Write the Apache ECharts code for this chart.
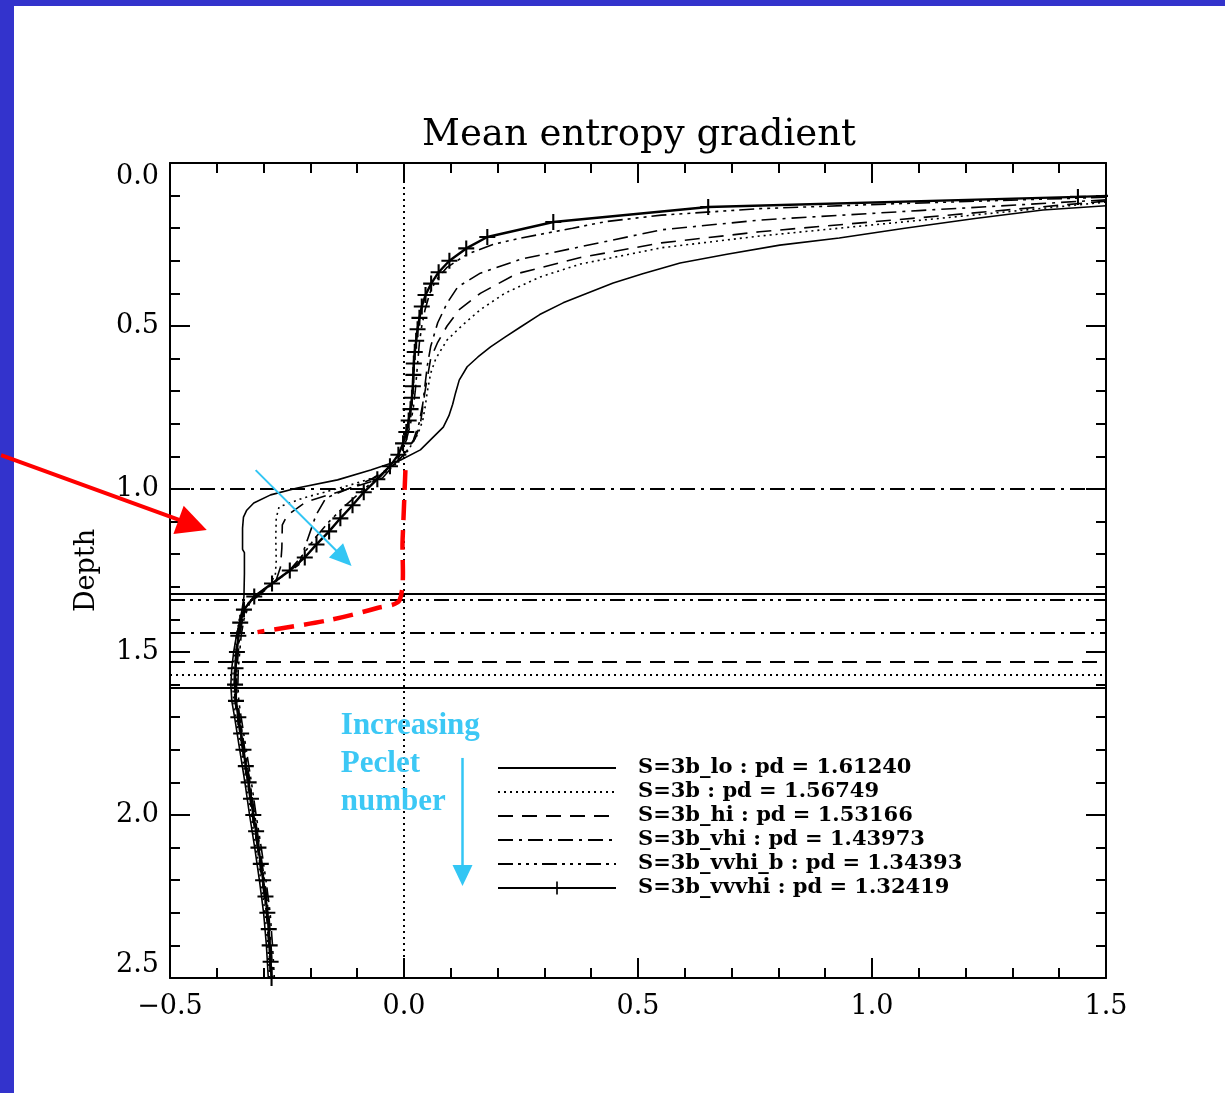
<!DOCTYPE html>
<html>
<head>
<meta charset="utf-8">
<script src="https://cdn.jsdelivr.net/npm/echarts@6/dist/echarts.min.js"></script>
<style>
  html, body { margin: 0; padding: 0; background: #ffffff; }
  #chart { width: 1225px; height: 1093px; }
</style>
</head>
<body>
<div id="chart"></div>
<script>
// Runs and their penetration depths (pd)
const runNames = ['S=3b_lo', 'S=3b', 'S=3b_hi', 'S=3b_vhi', 'S=3b_vvhi_b', 'S=3b_vvvhi'];
const penetrationDepth = [1.61240, 1.56749, 1.53166, 1.43973, 1.34393, 1.32419];

// Mean entropy gradient profiles: depth (y) and gradient (x) per run
const loDepth = [0.131, 0.144, 0.170, 0.200, 0.230, 0.252, 0.280, 0.307, 0.340, 0.368, 0.400, 0.429, 0.465, 0.503, 0.535, 0.564, 0.595, 0.625, 0.666, 0.706, 0.740, 0.775, 0.810, 0.840, 0.880, 0.911, 0.942, 0.972, 0.997, 1.018, 1.043, 1.065, 1.086, 1.120, 1.185, 1.195, 1.260, 1.330, 1.370,
  1.40, 1.45, 1.50, 1.55, 1.60, 1.65, 1.70, 1.80, 1.90, 2.00, 2.10, 2.20, 2.30, 2.40, 2.50];
const loGrad = [1.500, 1.365, 1.220, 1.070, 0.930, 0.803, 0.690, 0.590, 0.510, 0.447, 0.390, 0.340, 0.290, 0.249, 0.215, 0.185, 0.158, 0.135, 0.118, 0.110, 0.104, 0.096, 0.084, 0.063, 0.035, -0.007, -0.071, -0.142, -0.228, -0.285, -0.321, -0.336, -0.343, -0.345, -0.345, -0.341, -0.341, -0.342, -0.346,
  -0.350, -0.358, -0.364, -0.368, -0.370, -0.368, -0.362, -0.351, -0.340, -0.330, -0.319, -0.309, -0.300, -0.294, -0.290];

const s3bDepth = [0.120, 0.176, 0.224, 0.260, 0.310, 0.350, 0.400, 0.450, 0.500, 0.543, 0.600, 0.645, 0.700, 0.750, 0.790, 0.830, 0.860, 0.890, 0.920, 0.957, 0.990, 1.028, 1.055, 1.089, 1.150, 1.220, 1.264, 1.300, 1.340, 1.370,
  1.40, 1.45, 1.50, 1.55, 1.60, 1.65, 1.70, 1.80, 1.90, 2.00, 2.10, 2.20, 2.30, 2.40, 2.50];
const s3bGrad = [1.500, 1.100, 0.760, 0.550, 0.377, 0.290, 0.215, 0.163, 0.123, 0.092, 0.068, 0.057, 0.050, 0.045, 0.040, 0.030, 0.018, 0.005, -0.015, -0.046, -0.120, -0.216, -0.267, -0.273, -0.274, -0.273, -0.275, -0.290, -0.325, -0.343,
  -0.352, -0.358, -0.362, -0.365, -0.366, -0.364, -0.359, -0.348, -0.337, -0.327, -0.316, -0.306, -0.297, -0.291, -0.287];

const hiDepth = [0.117, 0.168, 0.211, 0.245, 0.290, 0.340, 0.400, 0.450, 0.500, 0.550, 0.600, 0.700, 0.800, 0.845, 0.875, 0.910, 0.940, 0.966, 1.000, 1.040, 1.080, 1.110, 1.181, 1.240, 1.283, 1.320, 1.360,
  1.40, 1.45, 1.50, 1.55, 1.60, 1.65, 1.70, 1.80, 1.90, 2.00, 2.10, 2.20, 2.30, 2.40, 2.50];
const hiGrad = [1.500, 1.100, 0.760, 0.550, 0.377, 0.240, 0.163, 0.118, 0.092, 0.072, 0.057, 0.045, 0.035, 0.024, 0.010, -0.010, -0.030, -0.046, -0.120, -0.210, -0.249, -0.260, -0.261, -0.264, -0.274, -0.311, -0.337,
  -0.350, -0.356, -0.359, -0.362, -0.363, -0.361, -0.356, -0.345, -0.334, -0.324, -0.313, -0.303, -0.294, -0.289, -0.285];

const vhiDepth = [0.113, 0.146, 0.175, 0.205, 0.257, 0.295, 0.338, 0.380, 0.430, 0.490, 0.563, 0.620, 0.680, 0.740, 0.800, 0.850, 0.890, 0.930, 0.970, 1.028, 1.080, 1.150, 1.233, 1.270, 1.310, 1.350,
  1.40, 1.45, 1.50, 1.55, 1.60, 1.65, 1.70, 1.80, 1.90, 2.00, 2.10, 2.20, 2.30, 2.40, 2.50];
const vhiGrad = [1.500, 1.100, 0.760, 0.550, 0.377, 0.250, 0.163, 0.115, 0.092, 0.072, 0.057, 0.050, 0.045, 0.040, 0.032, 0.020, 0.003, -0.025, -0.070, -0.167, -0.188, -0.205, -0.225, -0.262, -0.302, -0.333,
  -0.345, -0.351, -0.354, -0.357, -0.358, -0.356, -0.351, -0.340, -0.329, -0.319, -0.308, -0.298, -0.289, -0.284, -0.280];

const vvhiDepth = [0.105, 0.125, 0.140, 0.160, 0.180, 0.200, 0.230, 0.250, 0.280, 0.320, 0.360, 0.400, 0.450, 0.500, 0.550, 0.600, 0.650, 0.700, 0.750, 0.800, 0.850, 0.900, 0.950, 1.000, 1.050, 1.100, 1.150, 1.200, 1.250, 1.300, 1.350,
  1.40, 1.45, 1.50, 1.55, 1.60, 1.65, 1.70, 1.80, 1.90, 2.00, 2.10, 2.20, 2.30, 2.40, 2.50];
const vvhiGrad = [1.500, 1.050, 0.760, 0.550, 0.430, 0.360, 0.250, 0.190, 0.135, 0.092, 0.068, 0.055, 0.045, 0.038, 0.033, 0.030, 0.027, 0.024, 0.020, 0.014, 0.005, -0.010, -0.045, -0.085, -0.125, -0.160, -0.190, -0.215, -0.245, -0.288, -0.330,
  -0.342, -0.348, -0.351, -0.354, -0.355, -0.353, -0.348, -0.337, -0.326, -0.316, -0.305, -0.295, -0.286, -0.281, -0.277];

const vvvhiDepth = [0.100, 0.104, 0.135, 0.181, 0.227, 0.262, 0.300, 0.335, 0.370, 0.405, 0.440, 0.475, 0.510, 0.545, 0.580, 0.615, 0.650, 0.685, 0.720, 0.755, 0.790, 0.825, 0.860, 0.895, 0.930, 0.970, 1.010, 1.050, 1.090, 1.130, 1.170, 1.210, 1.250, 1.290, 1.330, 1.370, 1.410, 1.450,
  1.500, 1.550, 1.600, 1.650, 1.700, 1.750, 1.800, 1.850, 1.900, 1.950, 2.000, 2.050, 2.100, 2.150, 2.200, 2.250, 2.300, 2.350, 2.400, 2.450, 2.500];
const vvvhiGrad = [1.520, 1.440, 0.650, 0.319, 0.178, 0.133, 0.097, 0.074, 0.058, 0.046, 0.038, 0.033, 0.029, 0.026, 0.023, 0.021, 0.020, 0.019, 0.017, 0.014, 0.010, 0.005, -0.002, -0.012, -0.030, -0.057, -0.086, -0.110, -0.136, -0.160, -0.187, -0.212, -0.244, -0.282, -0.320, -0.342, -0.350, -0.354,
  -0.357, -0.360, -0.361, -0.359, -0.354, -0.348, -0.343, -0.338, -0.332, -0.327, -0.322, -0.316, -0.311, -0.306, -0.301, -0.296, -0.292, -0.289, -0.287, -0.285, -0.283];

// Axis ticks
const xTicks = [-0.5, 0.0, 0.5, 1.0, 1.5];
const yTicks = [0.0, 0.5, 1.0, 1.5, 2.0, 2.5];
const baseDepth = 1.0;   // dash-dot reference line

const profiles = [
  [loDepth, loGrad], [s3bDepth, s3bGrad], [hiDepth, hiGrad],
  [vhiDepth, vhiGrad], [vvhiDepth, vvhiGrad], [vvvhiDepth, vvvhiGrad]
];

// Line styles (IDL-like linestyles)
const dashStyles = ['solid', [2, 4], [15, 9], [15, 6, 3, 6], [15, 5, 3, 5, 3, 5, 3, 5], 'solid'];
const curveWidths = [1.6, 1.6, 1.6, 1.6, 1.6, 2.4];
const plusPath = 'path://M-1,-0.13L-0.13,-0.13L-0.13,-1L0.13,-1L0.13,-0.13L1,-0.13L1,0.13L0.13,0.13L0.13,1L-0.13,1L-0.13,0.13L-1,0.13Z';

const serif = '"DejaVu Serif", "Liberation Serif", serif';
const fmt = v => v.toFixed(1).replace('-', '\u2212');

const chart = echarts.init(document.getElementById('chart'), null, { renderer: 'canvas' });

const legendNames = runNames.map((n, i) => n + ' : pd = ' + penetrationDepth[i].toFixed(5));

const series = profiles.map(([dep, grad], i) => {
  const isPlus = i === 5;
  return {
    name: legendNames[i],
    type: 'line',
    xAxisIndex: 0,
    yAxisIndex: 0,
    data: dep.map((d, k) => [grad[k], d]),
    showSymbol: isPlus,
    showAllSymbol: true,
    symbol: isPlus ? plusPath : 'none',
    symbolSize: 16,
    itemStyle: { color: '#000' },
    lineStyle: { color: '#000', width: curveWidths[i], type: dashStyles[i] },
    clip: true,
    z: 3 + i,
    markLine: {
      silent: true,
      symbol: 'none',
      label: { show: false },
      lineStyle: { color: '#000', width: 2, type: dashStyles[i] },
      data: [{ yAxis: penetrationDepth[i] }]
    }
  };
});

// Reference lines: zero gradient (dotted) and depth 1.0 (dash-dot)
series.push({
  type: 'line',
  xAxisIndex: 0,
  yAxisIndex: 0,
  data: [],
  markLine: {
    silent: true,
    symbol: 'none',
    label: { show: false },
    data: [
      { xAxis: 0, lineStyle: { color: '#000', width: 2, type: [2, 4] } },
      { yAxis: baseDepth, lineStyle: { color: '#000', width: 2, type: [15, 6, 3, 6] } }
    ]
  }
});

const tickCommon = {
  axisLine: { show: true, onZero: false, lineStyle: { color: '#000', width: 2 } },
  axisTick: { show: true, inside: true, length: 20, lineStyle: { color: '#000', width: 2 } },
  minorTick: { show: true, splitNumber: 5, length: 10, lineStyle: { color: '#000', width: 2 } },
  splitLine: { show: false }
};

const option = {
  animation: false,
  backgroundColor: '#ffffff',
  title: {
    text: 'Mean entropy gradient',
    left: 634,
    top: 112,
    textAlign: 'center',
    textStyle: { fontFamily: serif, fontSize: 37, fontWeight: 'normal', color: '#000' }
  },
  grid: { left: 170, top: 163, width: 936, height: 815, containLabel: false },
  xAxis: [
    Object.assign({
      type: 'value', position: 'bottom', min: xTicks[0], max: xTicks[xTicks.length - 1], interval: 0.5,
      axisLabel: { show: true, margin: 15, formatter: fmt, fontFamily: serif, fontSize: 27, color: '#000' }
    }, tickCommon),
    Object.assign({
      type: 'value', position: 'top', min: xTicks[0], max: xTicks[xTicks.length - 1], interval: 0.5,
      axisLabel: { show: false }
    }, tickCommon)
  ],
  yAxis: [
    Object.assign({
      type: 'value', position: 'left', inverse: true, min: yTicks[0], max: yTicks[yTicks.length - 1], interval: 0.5,
      name: 'Depth', nameLocation: 'middle', nameRotate: 90, nameGap: 70,
      nameTextStyle: { fontFamily: serif, fontSize: 27, color: '#000' },
      axisLabel: {
        show: true, margin: 11, formatter: fmt, fontFamily: serif, fontSize: 27, color: '#000',
        verticalAlignMinLabel: 'top', verticalAlignMaxLabel: 'bottom'
      }
    }, tickCommon),
    Object.assign({
      type: 'value', position: 'right', inverse: true, min: yTicks[0], max: yTicks[yTicks.length - 1], interval: 0.5,
      axisLabel: { show: false }
    }, tickCommon)
  ],
  legend: {
    show: true,
    orient: 'vertical',
    left: 497,
    top: 756,
    padding: 0,
    itemWidth: 118,
    itemHeight: 16,
    itemGap: 0,
    selectedMode: false,
    data: legendNames.map((n, i) => i === 5 ? { name: n } : { name: n, itemStyle: { opacity: 0 } }),
    textStyle: { fontFamily: serif, fontSize: 21, fontWeight: 'bold', color: '#000', lineHeight: 24, padding: [0, 0, 0, 17] }
  },
  series: series
};

chart.setOption(option);

// Annotations placed in data coordinates
const toPx = p => chart.convertToPixel({ xAxisIndex: 0, yAxisIndex: 0 }, p);

function arrow(from, to, color, width, headLen, headHalf, z) {
  const a = toPx(from), b = toPx(to);
  const dx = b[0] - a[0], dy = b[1] - a[1];
  const L = Math.hypot(dx, dy), ux = dx / L, uy = dy / L;
  const bx = b[0] - ux * headLen, by = b[1] - uy * headLen;
  return [
    { type: 'line', z: z, shape: { x1: a[0], y1: a[1], x2: bx + ux * 2, y2: by + uy * 2 },
      style: { stroke: color, lineWidth: width } },
    { type: 'polygon', z: z, shape: { points: [[b[0], b[1]], [bx - uy * headHalf, by + ux * headHalf], [bx + uy * headHalf, by - ux * headHalf]] },
      style: { fill: color } }
  ];
}

const redPath = [[0.003, 0.942], [-0.003, 1.156], [-0.009, 1.340], [-0.057, 1.365], [-0.163, 1.403], [-0.313, 1.439]];
const labelAnchor = toPx([-0.135, 1.668]);

const graphics = [
  { type: 'rect', z: 1, shape: { x: 0, y: 0, width: 1225, height: 6 }, style: { fill: '#3333cc' } },
  { type: 'rect', z: 1, shape: { x: 0, y: 0, width: 14, height: 1093 }, style: { fill: '#3333cc' } },
  ...arrow([-0.861, 0.896], [-0.4215, 1.126], '#ff0000', 4, 30, 15, 10),
  ...arrow([-0.317, 0.942], [-0.112, 1.236], '#33c6f4', 2, 22, 10, 10),
  ...arrow([0.125, 1.825], [0.125, 2.218], '#33c6f4', 2.5, 21, 10, 10),
  { type: 'polyline', z: 10, shape: { points: redPath.map(toPx), smooth: 0.3 },
    style: { stroke: '#ff0000', lineWidth: 4.5, lineDash: [20, 10], fill: null } },
  { type: 'text', z: 10, x: labelAnchor[0], y: labelAnchor[1],
    style: { text: 'Increasing\nPeclet\nnumber', fill: '#3cc8f5', font: 'bold 31px "Liberation Serif", "DejaVu Serif", serif', lineHeight: 38 } }
];

chart.setOption({ graphic: graphics });
</script>
</body>
</html>
